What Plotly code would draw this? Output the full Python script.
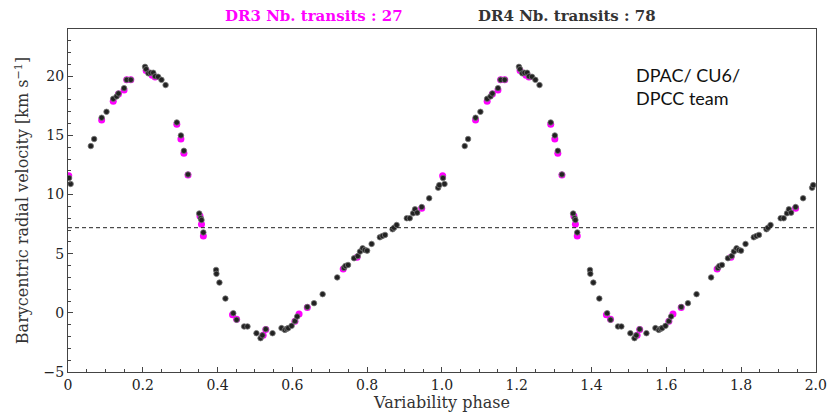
import plotly.graph_objects as go

# DR4 (black) phase / radial velocity, one cycle
dr4_phase = [0.003, 0.007, 0.061, 0.070, 0.090, 0.103, 0.121, 0.130, 0.135, 0.150,
             0.157, 0.168, 0.206, 0.209, 0.215, 0.221, 0.228, 0.233, 0.241, 0.250,
             0.261, 0.291, 0.302, 0.310, 0.321, 0.351, 0.355, 0.357, 0.362, 0.396,
             0.397, 0.405, 0.421, 0.442, 0.451, 0.471, 0.480, 0.504, 0.515, 0.520,
             0.529, 0.547, 0.571, 0.580, 0.585, 0.589, 0.598, 0.607, 0.613, 0.640,
             0.658, 0.681, 0.720, 0.738, 0.742, 0.749, 0.765, 0.775, 0.781, 0.788,
             0.794, 0.800, 0.812, 0.834, 0.841, 0.848, 0.868, 0.872, 0.879, 0.906,
             0.914, 0.923, 0.928, 0.934, 0.946, 0.966, 0.990, 0.993]
dr4_rv = [11.4, 10.9, 14.1, 14.7, 16.5, 17.0, 18.1, 18.3, 18.55, 19.0,
          19.7, 19.7, 20.8, 20.6, 20.25, 20.3, 20.3, 20.0, 19.96, 19.7,
          19.26, 16.1, 15.0, 13.7, 11.7, 8.4, 8.0, 7.85, 6.8, 3.63,
          3.3, 2.56, 1.21, -0.03, -0.59, -1.15, -1.15, -1.72, -2.14, -1.9,
          -1.38, -1.72, -1.29, -1.44, -1.35, -1.29, -1.1, -0.7, -0.31, 0.5,
          0.82, 1.58, 3.0, 3.8, 3.97, 4.05, 4.62, 4.8, 5.18, 5.46,
          5.32, 5.26, 5.83, 6.39, 6.5, 6.59, 7.07, 7.2, 7.43, 8.0,
          8.0, 8.42, 8.76, 8.47, 8.95, 9.69, 10.58, 10.8]

# DR3 (magenta) phase / radial velocity, one cycle
dr3_phase = [0.002, 0.090, 0.121, 0.135, 0.150, 0.157, 0.168, 0.209, 0.225, 0.233,
             0.291, 0.302, 0.310, 0.321, 0.353, 0.357, 0.362, 0.440, 0.451, 0.522,
             0.529, 0.607, 0.618, 0.640, 0.736, 0.773, 0.946]
dr3_rv = [11.6, 16.3, 17.9, 18.5, 18.85, 19.7, 19.7, 20.5, 20.1, 19.95,
          15.95, 14.7, 13.5, 11.65, 8.2, 7.5, 6.5, -0.15, -0.55, -1.9,
          -1.4, -0.7, -0.1, 0.45, 3.7, 4.7, 8.85]

mean_rv = 7.2
x_tickvals = [0, 0.2, 0.4, 0.6, 0.8, 1.0, 1.2, 1.4, 1.6, 1.8, 2.0]
x_ticktext = ["0", "0.2", "0.4", "0.6", "0.8", "1.0", "1.2", "1.4", "1.6", "1.8", "2.0"]
y_tickvals = [-5, 0, 5, 10, 15, 20]

serif = "DejaVu Serif"

fig = go.Figure()
fig.add_trace(go.Scatter(
    x=dr3_phase + [p + 1 for p in dr3_phase], y=dr3_rv + dr3_rv,
    mode="markers", marker=dict(color="#ff00ff", size=7, line=dict(width=0)),
    showlegend=False, hoverinfo="skip"))
fig.add_trace(go.Scatter(
    x=dr4_phase + [p + 1 for p in dr4_phase], y=dr4_rv + dr4_rv,
    mode="markers", marker=dict(color="#222222", size=5.5, line=dict(width=0.8, color="#777777")),
    showlegend=False, hoverinfo="skip"))

fig.add_shape(type="line", xref="paper", x0=0, x1=1, yref="y", y0=mean_rv, y1=mean_rv,
              line=dict(color="#222222", width=1, dash="4px,3px"))

fig.add_annotation(text="<b>DR3 Nb. transits : 27</b>", xref="paper", yref="paper",
                   x=0.3295, y=1.0, xanchor="center", yanchor="middle", yshift=13,
                   showarrow=False, font=dict(family=serif, size=15, color="#ff00ff"))
fig.add_annotation(text="<b>DR4 Nb. transits : 78</b>", xref="paper", yref="paper",
                   x=0.667, y=1.0, xanchor="center", yanchor="middle", yshift=13,
                   showarrow=False, font=dict(family=serif, size=15, color="#333333"))
fig.add_annotation(text="DPAC/ CU6/<br>DPCC team", xref="paper", yref="paper",
                   x=0.757, y=0.831, xanchor="left", yanchor="middle", align="left",
                   showarrow=False, font=dict(family="Lato", size=18, color="#111111"))

axis_common = dict(showline=True, linecolor="#444444", linewidth=1.2, mirror=True,
                   showgrid=False, zeroline=False, ticks="inside", ticklen=5,
                   tickcolor="#444444", automargin=False,
                   tickfont=dict(family=serif, size=14, color="#222222"))

fig.update_layout(
    width=827, height=416,
    margin=dict(l=68, r=11, t=29, b=44),
    paper_bgcolor="white", plot_bgcolor="white",
    font=dict(family=serif),
    xaxis=dict(range=[0, 2.0005], tickvals=x_tickvals, ticktext=x_ticktext,
               minor=dict(dtick=0.05, ticks="inside", ticklen=3, tickcolor="#444444"),
               title=dict(text="Variability phase", standoff=1,
                          font=dict(family=serif, size=16, color="#333333")),
               **axis_common),
    yaxis=dict(range=[-5, 24], tickvals=y_tickvals,
               minor=dict(dtick=1, ticks="inside", ticklen=3, tickcolor="#444444"),
               title=dict(text="Barycentric radial velocity [km s<sup>−1</sup>]", standoff=10,
                          font=dict(family=serif, size=16, color="#333333")),
               **axis_common),
)

fig.write_html("out.html")
